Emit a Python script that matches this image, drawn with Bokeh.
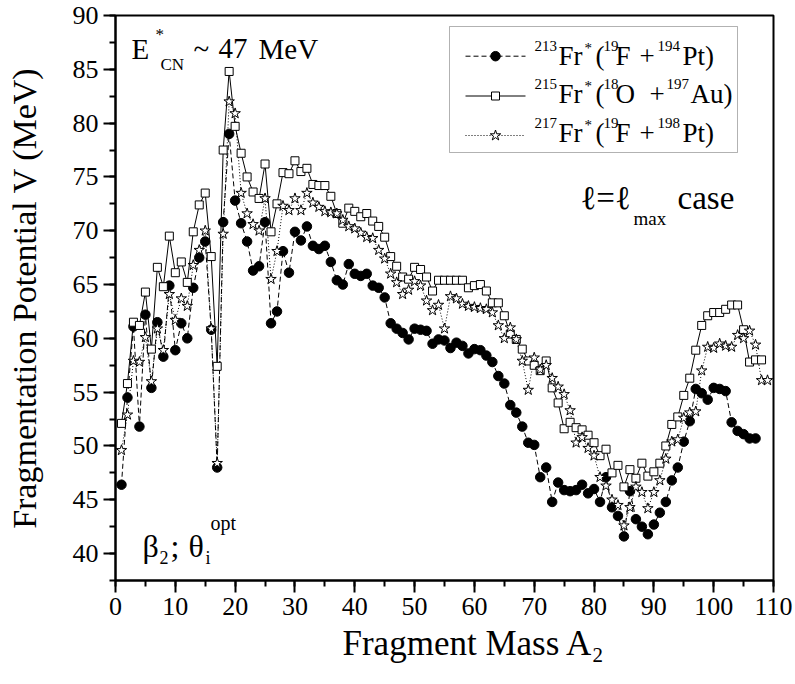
import math
from bokeh.plotting import figure
from bokeh.models import Range1d, SingleIntervalTicker, Label, BoxAnnotation, Title
from bokeh.embed import file_html
from bokeh.resources import INLINE

# ---------------- data ----------------
MASS = [1, 2, 3, 4, 5, 6, 7, 8, 9, 10, 11, 12, 13, 14, 15, 16, 17, 18, 19, 20,
        21, 22, 23, 24, 25, 26, 27, 28, 29, 30, 31, 32, 33, 34, 35, 36, 37, 38, 39, 40,
        41, 42, 43, 44, 45, 46, 47, 48, 49, 50, 51, 52, 53, 54, 55, 56, 57, 58, 59, 60,
        61, 62, 63, 64, 65, 66, 67, 68, 69, 70, 71, 72, 73, 74, 75, 76, 77, 78, 79, 80,
        81, 82, 83, 84, 85, 86, 87, 88, 89, 90, 91, 92, 93, 94, 95, 96, 97, 98, 99, 100,
        101, 102, 103, 104, 105, 106, 107, 108, 109]

# 213Fr* (19F + 194Pt)   A2 = 1..107
V_213 = [46.4, 54.5, 61.1, 51.8, 62.2, 55.4, 61.5, 58.3, 64.9, 58.9,
         61.4, 60.0, 64.7, 67.5, 69.0, 60.8, 48.0, 70.8, 79.0, 72.8,
         70.7, 69.0, 66.3, 66.7, 70.8, 61.4, 62.5, 68.1, 66.1, 69.9,
         69.1, 70.4, 68.6, 68.3, 68.6, 67.1, 65.4, 65.0, 66.9, 66.0,
         65.8, 66.0, 64.9, 64.7, 63.8, 61.4, 60.9, 60.5, 59.9, 60.9,
         60.8, 60.7, 59.5, 59.9, 59.8, 59.1, 59.6, 59.3, 58.6, 59.0,
         58.9, 58.4, 57.8, 56.5, 55.8, 53.8, 53.1, 51.8, 50.3, 50.1,
         47.1, 48.0, 44.8, 46.6, 45.9, 45.8, 45.9, 46.4, 45.6, 46.0,
         44.8, 47.1, 44.3, 43.5, 41.6, 45.8, 43.2, 42.5, 41.8, 42.7,
         43.8, 44.8, 46.8, 48.0, 50.4, 52.3, 55.3, 54.9, 54.3, 55.4,
         55.3, 55.1, 52.2, 51.4, 51.1, 50.7, 50.7]

# 215Fr* (18O + 197Au)   A2 = 1..108
V_215 = [52.1, 55.8, 61.5, 61.2, 64.3, 59.0, 66.6, 64.8, 69.5, 66.1,
         67.1, 65.2, 69.9, 72.4, 73.5, 67.6, 57.4, 77.5, 84.8, 79.7,
         77.2, 75.0, 73.6, 73.0, 76.2, 69.9, 72.5, 75.4, 75.3, 76.5,
         75.5, 75.8, 74.3, 74.2, 74.2, 73.2, 71.6, 70.7, 72.1, 71.8,
         71.3, 71.6, 70.9, 70.4, 69.4, 67.6, 66.7, 65.7, 65.5, 66.6,
         66.4, 65.7, 64.4, 65.4, 65.4, 65.4, 65.4, 65.4, 64.7, 64.9,
         65.0, 64.4, 63.3, 63.3, 62.1, 60.4, 59.9, 59.0, 57.9, 57.5,
         57.0, 57.9, 55.4, 54.0, 51.6, 52.2, 51.7, 51.5, 51.0, 50.3,
         49.1, 49.7, 47.5, 48.2, 46.2, 47.8, 47.0, 48.4, 47.2, 47.6,
         48.4, 50.0, 52.0, 52.7, 54.7, 56.3, 58.9, 61.2, 62.1, 62.4,
         62.4, 62.7, 63.1, 63.1, 60.8, 57.8, 58.0, 58.0]

# 217Fr* (19F + 198Pt)   A2 = 1..109
V_217 = [49.6, 52.9, 57.9, 57.8, 60.1, 56.0, 60.9, 58.9, 64.1, 61.7,
         63.7, 63.0, 66.8, 68.2, 70.0, 60.9, 48.4, 69.7, 82.0, 80.9,
         73.5, 71.6, 70.6, 70.0, 73.0, 65.5, 68.1, 72.3, 71.9, 73.0,
         71.9, 73.5, 72.6, 72.2, 71.8, 71.7, 71.6, 71.0, 70.4, 70.2,
         69.8, 69.4, 69.3, 68.2, 67.4, 66.0, 65.2, 64.1, 64.5, 65.3,
         64.9, 63.5, 62.6, 63.1, 60.9, 63.9, 63.7, 63.2, 63.0, 62.9,
         62.8, 62.7, 62.4, 61.2, 60.0, 61.0, 59.9, 57.9, 55.2, 58.2,
         57.1, 57.5, 56.3, 55.5, 54.8, 53.3, 50.3, 50.8, 49.8, 49.1,
         47.1, 46.3, 45.0, 44.5, 42.6, 44.3, 46.2, 45.7, 44.2, 45.7,
         46.8, 48.8, 50.4, 50.6, 52.6, 53.1, 53.2, 57.0, 59.2, 59.1,
         59.5, 59.3, 59.2, 60.3, 60.0, 60.7, 59.4, 56.1, 56.1]

X_TICK_INTERVAL = 10
Y_TICK_INTERVAL = 5

# ---------------- layout ----------------
W, H = 795, 684
L, R, T, B = 115, 22, 15, 104
XMIN, XMAX = 0, 110
YMIN, YMAX = 37.5, 90
FW, FH = W - L - R, H - T - B
FONT = "Liberation Serif"
BASE_FIX = 0.37   # empirical correction of the label baseline (fraction of font size)


def dx(px):
    return XMIN + (px - L) / FW * (XMAX - XMIN)


def dy(py):
    return YMAX - (py - T) / FH * (YMAX - YMIN)


p = figure(width=W, height=H, output_backend="svg", toolbar_location=None,
           x_range=Range1d(XMIN, XMAX), y_range=Range1d(YMIN, YMAX),
           min_border_left=L, min_border_right=R, min_border_top=T,
           min_border_bottom=B)
p.background_fill_color = "white"
p.border_fill_color = "white"
p.outline_line_color = "black"
p.outline_line_width = 2
p.xgrid.visible = False
p.ygrid.visible = False

p.xaxis.ticker = SingleIntervalTicker(interval=X_TICK_INTERVAL, num_minor_ticks=2)
p.yaxis.ticker = SingleIntervalTicker(interval=Y_TICK_INTERVAL, num_minor_ticks=2)
for ax in (p.xaxis[0], p.yaxis[0]):
    ax.axis_line_width = 2
    ax.axis_line_color = "black"
    ax.major_tick_line_width = 2
    ax.minor_tick_line_width = 2
    ax.major_tick_line_color = "black"
    ax.minor_tick_line_color = "black"
    ax.major_tick_in = 0
    ax.major_tick_out = 12
    ax.minor_tick_in = 0
    ax.minor_tick_out = 6
    ax.major_label_text_font = FONT
    ax.major_label_text_font_size = "26px"
    ax.major_label_text_color = "black"
    ax.major_label_standoff = 5

p.yaxis.axis_label = "Fragmentation Potential V (MeV)"
p.yaxis.axis_label_text_font = FONT
p.yaxis.axis_label_text_font_size = "34px"
p.yaxis.axis_label_text_font_style = "normal"
p.yaxis.axis_label_text_color = "black"
p.yaxis.axis_label_standoff = 27

p.add_layout(Title(text="Fragment Mass A\u2082", align="left", offset=227,
                   text_font=FONT, text_font_size="35px", text_font_style="normal",
                   text_color="black", standoff=8), "below")

# ---------------- series ----------------
m213 = MASS[:len(V_213)]
m215 = MASS[:len(V_215)]
m217 = MASS[:len(V_217)]

p.line(m213, V_213, line_color="black", line_width=1, line_dash="5 3")
p.line(m215, V_215, line_color="black", line_width=1)
p.line(m217, V_217, line_color="black", line_width=1, line_dash="1 2")

p.scatter(m213, V_213, marker="circle", size=9.5, fill_color="black", line_color="black")
p.scatter(m215, V_215, marker="square", size=8, fill_color="white", line_color="black", line_width=1)
p.scatter(m217, V_217, marker="star", size=11, fill_color="white", line_color="black", line_width=1)

# ---------------- legend (drawn by hand) ----------------
p.add_layout(BoxAnnotation(left=dx(449), right=dx(737), top=dy(26), bottom=dy(152),
                           fill_alpha=0, line_color="black", line_width=1))
rows = [55.7, 95.5, 135.0]
p.line([dx(465), dx(525)], [dy(rows[0])] * 2, line_color="black", line_width=1, line_dash="5 3")
p.scatter([dx(495)], [dy(rows[0])], marker="circle", size=9.5, fill_color="black", line_color="black")
p.line([dx(465), dx(525)], [dy(rows[1])] * 2, line_color="black", line_width=1)
p.scatter([dx(495)], [dy(rows[1])], marker="square", size=8, fill_color="white", line_color="black")
p.line([dx(465), dx(525)], [dy(rows[2])] * 2, line_color="black", line_width=1, line_dash="1 2")
p.scatter([dx(495)], [dy(rows[2])], marker="star", size=11, fill_color="white", line_color="black")

pieces = []
for b, iso, proj, tgt_mass, tgt, xs in [
        (65, "213", ("19", "F"), "194", "Pt)", (615, 639, 657, 682)),
        (103.5, "215", ("18", "O"), "197", "Au)", (615, 649, 666, 690)),
        (142, "217", ("19", "F"), "198", "Pt)", (615, 639, 657, 682))]:
    pieces += [(534, b - 14, iso, 15), (558, b, "Fr", 27), (584, b - 12, "*", 15),
               (595, b, "(", 27), (603, b - 14, proj[0], 15), (xs[0], b, proj[1], 27),
               (xs[1], b, "+", 27), (xs[2], b - 14, tgt_mass, 15), (xs[3], b, tgt, 27)]

# E*_CN ~ 47 MeV
pieces += [(131, 59, "E", 29), (155, 40, "*", 17), (160, 70, "CN", 17),
           (193, 59, "~", 29), (218, 59, "47", 29), (258, 59, "MeV", 29)]
# l = l_max case
pieces += [(580, 210, "\u2113=\u2113", 33), (633, 225, "max", 19), (677, 210, "case", 33)]
# beta_2; theta_i^opt
pieces += [(142, 557, "\u03b2", 32), (159, 564, "2", 18), (170, 557, ";", 32),
           (188, 557, "\u03b8", 32), (205, 564, "i", 18), (210, 530, "opt", 20)]

for px, py, txt, sz in pieces:
    p.add_layout(Label(x=dx(px), y=dy(py - BASE_FIX * sz), text=txt, text_font=FONT,
                       text_font_size=f"{sz}px", text_color="black",
                       text_align="left", text_baseline="alphabetic"))

open("out.html", "w").write(file_html(p, INLINE))
